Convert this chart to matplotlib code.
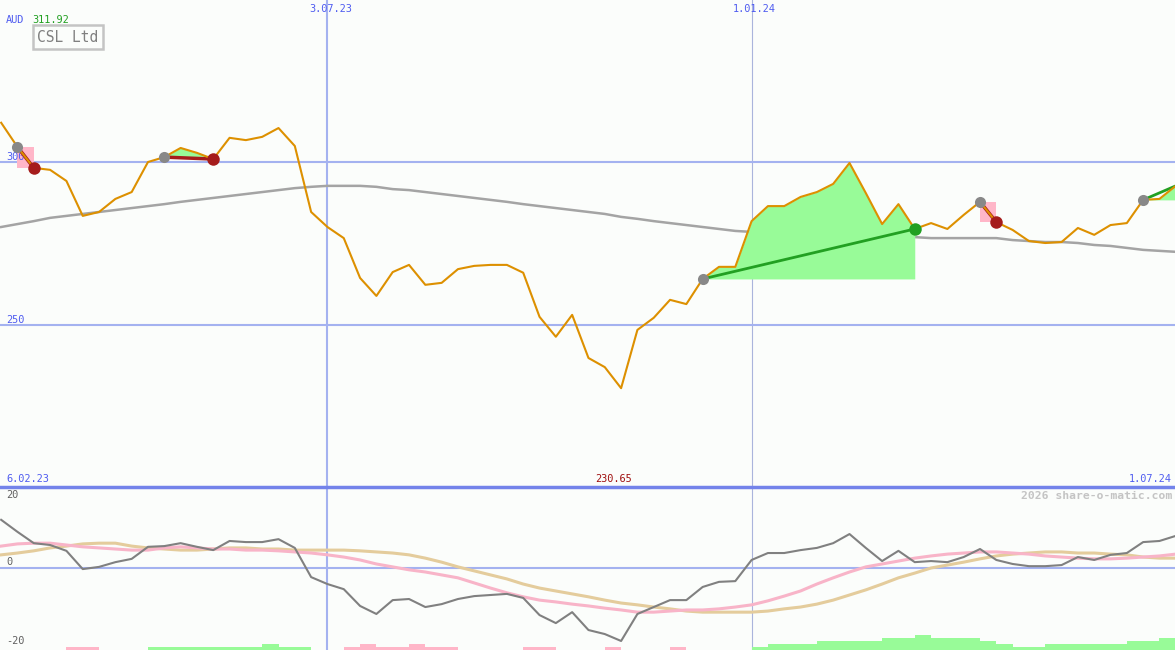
import matplotlib
matplotlib.use("Agg")
import matplotlib.pyplot as plt
import numpy as np
import pandas as pd

plt.rcParams["font.family"] = ["DejaVu Sans Mono"]

# weekly closes, 13.02.23 .. 1.07.24
dates = pd.date_range("2023-02-13", "2024-07-01", freq="7D")

price = [311.92, 304.5, 298.1, 297.5, 294.1, 283.4, 284.6, 288.6, 290.7, 299.9,
         301.4, 304.2, 302.7, 300.8, 307.3, 306.6, 307.6, 310.3, 304.8, 284.6,
         280.0, 276.6, 264.4, 258.9, 266.2, 268.4, 262.3, 262.9, 267.1, 268.1,
         268.4, 268.4, 266.0, 252.5, 246.4, 253.1, 239.9, 237.1, 230.65, 248.5,
         252.2, 257.7, 256.4, 264.1, 267.8, 267.8, 281.8, 286.4, 286.4, 289.2,
         290.7, 293.2, 299.6, 290.4, 280.9, 287.0, 279.4, 281.2, 279.4, 283.7,
         287.7, 281.5, 279.1, 275.7, 275.1, 275.4, 279.7, 277.6, 280.6, 281.2,
         288.3, 288.6, 292.6]

slow_ma = [280.0, 280.9, 281.8, 282.8, 283.4, 284.0, 284.6, 285.2, 285.8, 286.4,
           287.0, 287.7, 288.3, 288.9, 289.5, 290.1, 290.7, 291.3, 291.9, 292.3,
           292.6, 292.6, 292.6, 292.3, 291.6, 291.3, 290.7, 290.1, 289.5, 288.9,
           288.3, 287.7, 287.0, 286.4, 285.8, 285.2, 284.6, 284.0, 283.1, 282.5,
           281.8, 281.2, 280.6, 280.0, 279.4, 278.8, 278.5, 278.2, 278.5, 278.5,
           278.5, 278.5, 278.5, 278.2, 277.6, 277.3, 276.9, 276.6, 276.6, 276.6,
           276.6, 276.6, 276.0, 275.7, 275.4, 275.4, 275.1, 274.5, 274.2, 273.6,
           273.0, 272.7, 272.4]

# trades: entry / exit week index (None = still open)
entry_idx = [1, 10, 43, 60, 70]
exit_idx = [2, 13, 56, 61, None]

# lower panel
osc = [13.2, 9.9, 6.8, 6.3, 4.7, -0.3, 0.3, 1.6, 2.5, 5.8,
       6.0, 6.8, 5.8, 4.9, 7.4, 7.1, 7.1, 7.9, 5.5, -2.5,
       -4.4, -5.8, -10.4, -12.6, -8.8, -8.5, -10.7, -9.9, -8.5, -7.7,
       -7.4, -7.1, -8.2, -12.9, -15.1, -12.1, -17.0, -18.1, -20.0, -12.6,
       -10.7, -8.8, -8.8, -5.2, -3.8, -3.6, 2.2, 4.1, 4.1, 4.9,
       5.5, 6.8, 9.3, 5.5, 1.9, 4.7, 1.6, 1.9, 1.6, 3.0,
       5.2, 2.2, 1.1, 0.5, 0.5, 0.8, 3.0, 2.2, 3.6, 4.1,
       7.1, 7.4, 8.8]

osc_fast = [6.0, 6.6, 6.8, 6.8, 6.3, 5.8, 5.5, 5.2, 4.9, 4.9,
            5.5, 5.8, 5.5, 5.2, 5.2, 4.9, 4.9, 4.7, 4.4, 4.1,
            3.6, 3.0, 2.2, 1.1, 0.3, -0.5, -1.1, -1.9, -2.7, -4.1,
            -5.5, -6.8, -7.9, -8.8, -9.3, -9.9, -10.4, -11.0, -11.5, -12.1,
            -12.1, -11.8, -11.5, -11.5, -11.2, -10.7, -10.1, -9.0, -7.7, -6.3,
            -4.4, -2.7, -1.1, 0.3, 1.1, 1.9, 2.7, 3.3, 3.8, 4.1,
            4.4, 4.4, 4.1, 3.8, 3.3, 3.0, 2.7, 2.5, 2.5, 2.7,
            3.0, 3.3, 3.8]

osc_slow = [3.6, 4.1, 4.7, 5.5, 6.0, 6.6, 6.8, 6.8, 6.0, 5.5,
            5.2, 4.9, 4.9, 5.2, 5.5, 5.5, 5.2, 5.2, 4.9, 4.9,
            4.9, 4.9, 4.7, 4.4, 4.1, 3.6, 2.7, 1.6, 0.3, -0.8,
            -1.9, -3.0, -4.4, -5.5, -6.3, -7.1, -7.9, -8.8, -9.6, -10.1,
            -10.7, -11.2, -11.8, -12.1, -12.1, -12.1, -12.1, -11.8, -11.2, -10.7,
            -9.9, -8.8, -7.4, -6.0, -4.4, -2.7, -1.4, 0.0, 0.8, 1.6,
            2.5, 3.3, 3.8, 4.1, 4.4, 4.4, 4.1, 4.1, 3.8, 3.6,
            3.0, 2.7, 2.7]

hist = [0, 0, 0, 0, -0.8, -0.8, 0, 0, 0, 0.8,
        0.8, 0.8, 0.8, 0.8, 0.8, 0.8, 1.6, 0.8, 0.8, 0,
        0, -0.8, -1.6, -0.8, -0.8, -1.6, -0.8, -0.8, 0, 0,
        0, 0, -0.8, -0.8, 0, 0, 0, -0.8, 0, 0,
        0, -0.8, 0, 0, 0, 0, 0.8, 1.6, 1.6, 1.6,
        2.5, 2.5, 2.5, 2.5, 3.3, 3.3, 4.1, 3.3, 3.3, 3.3,
        2.5, 1.6, 0.8, 0.8, 1.6, 1.6, 1.6, 1.6, 1.6, 2.5,
        2.5, 3.3, 3.3]

price_grid = [300, 250]
osc_labels = [20, 0, -20]
date_marks = ["2023-07-03", "2024-01-01"]
date_texts = ["3.07.23", "1.01.24"]

BG = "#fbfdfb"
BLUE_TXT = "#4f5cf0"
GRID = "#a4b2f0"
GREEN = "#22a022"
RED = "#a51c1c"
FS = 7.4

price = np.array(price)
hist = np.array(hist)
xlim = (pd.Timestamp("2023-02-12 12:00"), pd.Timestamp("2024-06-30 16:00"))

fig = plt.figure(figsize=(11.75, 6.5), dpi=100, facecolor=BG)
ax = fig.add_axes([0, 163 / 650, 1, 487 / 650], facecolor=BG)
ax2 = fig.add_axes([0, 0, 1, 163 / 650], facecolor=BG)
for a in (ax, ax2):
    a.set_xlim(*xlim)
    a.set_xticks([])
    a.set_yticks([])
    for s in a.spines.values():
        s.set_visible(False)
    a.axvline(pd.Timestamp(date_marks[0]), color=GRID, lw=1.5, zorder=1)
    a.axvline(pd.Timestamp(date_marks[1]), color="#aab4dc", lw=0.8, zorder=1)

# ---- price panel
ax.set_ylim(200.4, 349.5)
for g in price_grid:
    ax.axhline(g, color=GRID, lw=1.5, zorder=1)
    ax.annotate(str(g), xy=(0, g), xycoords=("axes fraction", "data"), xytext=(6, 5),
                textcoords="offset pixels", color=BLUE_TXT, fontsize=FS, va="center")

ax.plot(dates, slow_ma, color="#a4a4a4", lw=1.8, zorder=2)

for ei, xi in zip(entry_idx, exit_idx):
    end = xi if xi is not None else len(price) - 1
    seg = slice(ei, end + 1)
    p0, p1 = price[ei], price[end]
    win = p1 > p0
    ax.fill_between(dates[seg], p0, price[seg], where=price[seg] >= p0, interpolate=True,
                    color="#98fb98", lw=0, zorder=2)
    if not win:
        ax.fill_between([dates[ei], dates[end]], p1, p0, color="#ffb6c8", lw=0, zorder=2)
    ax.plot([dates[ei], dates[end]], [p0, p1], color=GREEN if win else RED,
            lw=2 if win else 2.5, zorder=3)

ax.plot(dates, price, color="#dd9000", lw=1.5, zorder=4)

for ei, xi in zip(entry_idx, exit_idx):
    ax.plot(dates[ei], price[ei], "o", ms=8, color="#888888", mec="none", zorder=5)
    if xi is not None:
        c = GREEN if price[xi] > price[ei] else RED
        ax.plot(dates[xi], price[xi], "o", ms=9, color=c, mec="none", zorder=5)

for d, t in zip(date_marks, date_texts):
    ax.annotate(t, xy=(pd.Timestamp(d), 1), xycoords=("data", "axes fraction"),
                xytext=(3, -9), textcoords="offset pixels", ha="center", va="center",
                color=BLUE_TXT, fontsize=FS)

ax.annotate("6.02.23", xy=(0, 0), xycoords="axes fraction", xytext=(6, 8),
            textcoords="offset pixels", color=BLUE_TXT, fontsize=FS, va="center")
ax.annotate("1.07.24", xy=(1, 0), xycoords="axes fraction", xytext=(-3, 8),
            textcoords="offset pixels", color=BLUE_TXT, fontsize=FS, va="center", ha="right")
imin = int(np.argmin(price))
ax.annotate(f"{price.min():.2f}", xy=(dates[imin], 0), xycoords=("data", "axes fraction"),
            xytext=(-8, 8), textcoords="offset pixels", color="#a01010", fontsize=FS,
            va="center", ha="center")
ax.annotate("AUD", xy=(0, 1), xycoords="axes fraction", xytext=(6, -20),
            textcoords="offset pixels", color=BLUE_TXT, fontsize=FS, va="center")
ax.annotate(f"{price.max():.2f}", xy=(0, 1), xycoords="axes fraction", xytext=(32, -20),
            textcoords="offset pixels", color=GREEN, fontsize=FS, va="center")
ax.annotate("CSL Ltd", xy=(0, 1), xycoords="axes fraction", xytext=(68, -37),
            textcoords="offset pixels", color="#808080", fontsize=10.5, va="center",
            ha="center", bbox=dict(boxstyle="square,pad=0.3", fc=BG, ec="#c4c4c4", lw=1.8))

# ---- oscillator panel
lo, hi = -22.47, 22.19
ax2.set_ylim(lo, hi)
ax2.axhline(0, color=GRID, lw=1.5, zorder=1)
ax2.axhline(hi, color="#7383ea", lw=2.5, zorder=6, clip_on=False)
ax2.bar(dates, np.abs(hist), bottom=lo, width=7, align="edge",
        color=np.where(hist > 0, "#98fb98", "#ffb6c8"), lw=0, zorder=2)
ax2.plot(dates, osc_slow, color="#e4cc9c", lw=2.2, zorder=3)
ax2.plot(dates, osc_fast, color="#f8b4c8", lw=2.2, zorder=3)
ax2.plot(dates, osc, color="#808080", lw=1.5, zorder=4)
for v in osc_labels:
    ax2.annotate(str(v), xy=(0, v), xycoords=("axes fraction", "data"),
                 xytext=(6, 6 if v == 0 else 0), textcoords="offset pixels",
                 color="#606060", fontsize=FS, va="center")
ax2.annotate("2026 share-o-matic.com", xy=(1, 1), xycoords="axes fraction", xytext=(-3, -9),
             textcoords="offset pixels", color="#c4c4c4", fontsize=8.2, va="center", ha="right",
             fontweight="bold")

fig.savefig("out.png", dpi=100, facecolor=BG)
